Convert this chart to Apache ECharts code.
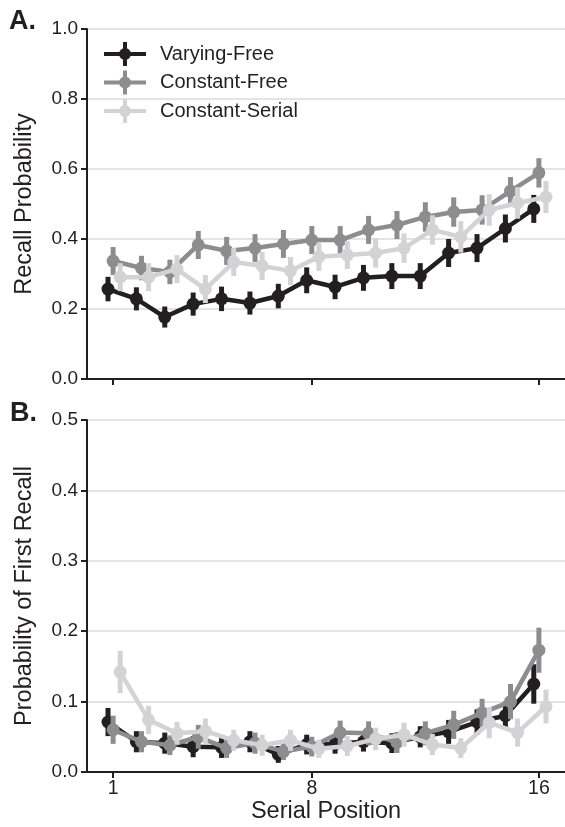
<!DOCTYPE html>
<html><head><meta charset="utf-8">
<script src="https://cdn.jsdelivr.net/npm/echarts@6/dist/echarts.min.js"></script>
<style>html,body{margin:0;padding:0;background:#fff}#c{width:565px;height:827px}</style>
</head><body><div id="c"></div>
<script>
const seriesNames = ['Varying-Free', 'Constant-Free', 'Constant-Serial'];
const positions = [1,2,3,4,5,6,7,8,9,10,11,12,13,14,15,16];
const xTickValues = [1, 8, 16];

// Panel A: recall probability
const recallVF = [0.257,0.229,0.177,0.214,0.229,0.217,0.237,0.282,0.263,0.289,0.294,0.294,0.36,0.374,0.43,0.486];
const recallCF = [0.337,0.317,0.306,0.383,0.366,0.374,0.386,0.397,0.397,0.426,0.44,0.463,0.477,0.483,0.537,0.589];
const recallCS = [0.291,0.291,0.314,0.257,0.334,0.323,0.309,0.349,0.354,0.36,0.374,0.426,0.406,0.483,0.503,0.52];
const recallErrVF = [0.035,0.033,0.03,0.033,0.035,0.033,0.035,0.037,0.035,0.037,0.037,0.037,0.04,0.04,0.04,0.04];
const recallErrCF = [0.04,0.035,0.035,0.04,0.04,0.04,0.04,0.04,0.04,0.04,0.04,0.042,0.042,0.042,0.04,0.042];
const recallErrCS = [0.04,0.04,0.04,0.04,0.04,0.04,0.04,0.04,0.04,0.042,0.042,0.042,0.045,0.045,0.045,0.046];

// Panel B: probability of first recall
const firstVF = [0.071,0.043,0.041,0.036,0.035,0.043,0.025,0.039,0.04,0.043,0.041,0.05,0.057,0.071,0.08,0.125];
const firstCF = [0.06,0.043,0.038,0.05,0.034,0.041,0.029,0.036,0.056,0.055,0.042,0.055,0.067,0.084,0.1,0.173];
const firstCS = [0.142,0.074,0.055,0.058,0.045,0.038,0.045,0.033,0.037,0.047,0.053,0.039,0.034,0.07,0.056,0.093];
const firstErrVF = [0.02,0.015,0.015,0.015,0.015,0.015,0.012,0.014,0.014,0.014,0.014,0.015,0.017,0.018,0.02,0.028];
const firstErrCF = [0.02,0.015,0.014,0.017,0.014,0.015,0.012,0.014,0.017,0.017,0.015,0.017,0.02,0.02,0.025,0.032];
const firstErrCS = [0.03,0.02,0.016,0.018,0.015,0.015,0.015,0.013,0.014,0.016,0.017,0.015,0.014,0.022,0.02,0.024];

const colors = ['#231f20', '#8d8d90', '#d3d3d5'];
const xOffsets = [-0.18, 0, 0.25];
const FONT = 'Liberation Sans, Arial, sans-serif';

const chart = echarts.init(document.getElementById('c'), null, {renderer: 'canvas'});

function makeSeries(panel, vals, errs, k) {
  const pts = positions.map((p, i) => [p + xOffsets[k], vals[i]]);
  const bars = positions.map((p, i) => [p + xOffsets[k], vals[i] - errs[i], vals[i] + errs[i]]);
  return [
    {
      type: 'custom', name: seriesNames[k], xAxisIndex: panel, yAxisIndex: panel,
      data: bars, encode: {x: 0, y: [1, 2]}, z: 2 + k, silent: true,
      renderItem: function (params, api) {
        const lo = api.coord([api.value(0), api.value(1)]);
        const hi = api.coord([api.value(0), api.value(2)]);
        return {type: 'rect', shape: {x: lo[0] - 2.5, y: hi[1], width: 5, height: lo[1] - hi[1]},
                style: {fill: colors[k]}};
      }
    },
    {
      type: 'line', name: seriesNames[k], xAxisIndex: panel, yAxisIndex: panel,
      data: pts, symbol: 'circle', symbolSize: 13, showSymbol: true, z: 2 + k,
      lineStyle: {color: colors[k], width: 4.5}, itemStyle: {color: colors[k]},
      animation: false
    }
  ];
}

const xAxisBase = (idx, showLabels, name) => ({
  type: 'value', gridIndex: idx, min: 0.08, max: 16.92,
  axisLine: {show: true, lineStyle: {color: '#231f20', width: 2}},
  axisTick: {show: true, customValues: xTickValues, length: 6, lineStyle: {color: '#231f20', width: 2}},
  axisLabel: {show: showLabels, customValues: xTickValues, fontSize: 19.5, color: '#231f20', fontFamily: FONT, margin: 7},
  splitLine: {show: false},
  name: name, nameLocation: 'middle', nameGap: 27,
  nameTextStyle: {fontSize: 23.5, color: '#231f20', fontFamily: FONT}
});

const yAxisBase = (idx, max, interval, name) => ({
  type: 'value', gridIndex: idx, min: 0, max: max, interval: interval,
  axisLine: {show: true, lineStyle: {color: '#231f20', width: 2}},
  axisTick: {show: true, length: 6, lineStyle: {color: '#231f20', width: 2}},
  axisLabel: {fontSize: 19, color: '#231f20', fontFamily: FONT, margin: 9,
              formatter: v => v.toFixed(1)},
  splitLine: {show: true, lineStyle: {color: '#e4e4e4', width: 2}},
  name: name, nameLocation: 'middle', nameGap: 50, nameRotate: 90,
  nameTextStyle: {fontSize: 23.5, color: '#231f20', fontFamily: FONT}
});

const legendIcon = 'path://M0,10H42V14H0Z M19,0H23V24H19Z M15,12a6,6 0 1,1 12,0a6,6 0 1,1 -12,0Z';

const option = {
  animation: false,
  backgroundColor: '#fff',
  grid: [
    {left: 87, top: 29, width: 478, height: 350},
    {left: 87, top: 420, width: 478, height: 352}
  ],
  xAxis: [xAxisBase(0, false, ''), xAxisBase(1, true, 'Serial Position')],
  yAxis: [yAxisBase(0, 1.0, 0.2, 'Recall Probability'), yAxisBase(1, 0.5, 0.1, 'Probability of First Recall')],
  legend: {
    orient: 'vertical', left: 104, top: 42, padding: 0, itemWidth: 42, itemHeight: 24, itemGap: 4.5,
    data: seriesNames.map((n, k) => ({name: n, icon: legendIcon, itemStyle: {color: colors[k]}})),
    textStyle: {fontSize: 20, color: '#231f20', fontFamily: FONT, padding: [0, 0, 0, 9]},
    selectedMode: false
  },
  graphic: [
    {type: 'text', left: 9, top: 8, style: {text: 'A.', font: 'bold 27px ' + FONT, fill: '#231f20'}},
    {type: 'text', left: 10, top: 400, style: {text: 'B.', font: 'bold 27px ' + FONT, fill: '#231f20'}}
  ],
  series: [
    ...makeSeries(0, recallVF, recallErrVF, 0),
    ...makeSeries(0, recallCF, recallErrCF, 1),
    ...makeSeries(0, recallCS, recallErrCS, 2),
    ...makeSeries(1, firstVF, firstErrVF, 0),
    ...makeSeries(1, firstCF, firstErrCF, 1),
    ...makeSeries(1, firstCS, firstErrCS, 2)
  ]
};
chart.setOption(option);
</script>
</body></html>
